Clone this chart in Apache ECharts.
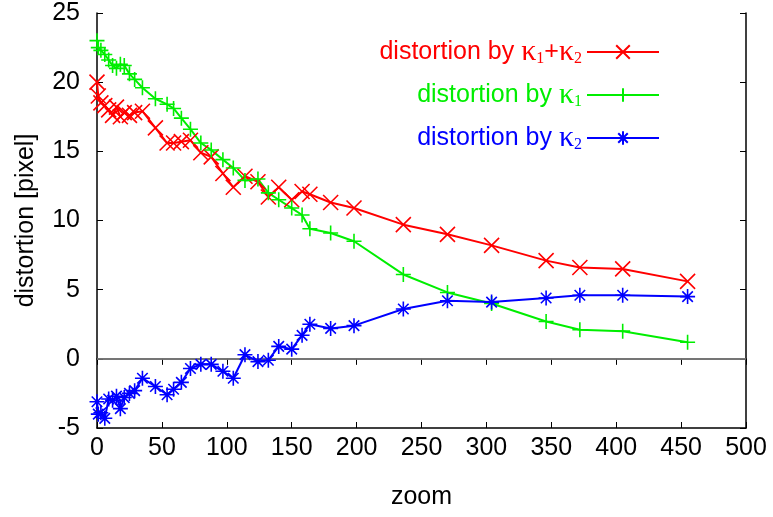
<!DOCTYPE html>
<html>
<head>
<meta charset="utf-8">
<script src="https://cdn.jsdelivr.net/npm/echarts@6/dist/echarts.min.js"></script>
<style>
  html, body { margin: 0; padding: 0; background: #fff; }
  #chart { width: 773px; height: 517px; }
</style>
</head>
<body>
<div id="chart"></div>
<script>
// zoom values shared by the three curves
const zoom = [0, 1, 3, 6, 9, 12, 15, 18, 21, 25, 29, 35, 45, 54, 59, 65, 72, 80, 88, 97,
    105, 114, 124, 132, 140, 150, 158, 164, 180, 198, 236, 270, 304, 346, 372, 405, 455];

// distortion by k1+k2
const distBoth = [20.0, 19.0, 18.5, 18.3, 18.0, 17.6, 18.2, 17.5, 17.8, 17.6, 17.8, 17.9, 16.7, 15.6, 15.6, 15.7, 15.8, 14.9, 14.6, 13.4,
    12.4, 13.2, 12.8, 11.7, 12.4, 11.5, 12.1, 11.9, 11.3, 10.9, 9.7, 9.0, 8.2, 7.1, 6.6, 6.5, 5.6];
// distortion by k1
const distK1 = [23.0, 22.5, 22.3, 22.0, 21.6, 21.2, 21.0, 21.3, 21.2, 20.6, 20.2, 19.6, 18.8, 18.4, 18.1, 17.4, 16.6, 15.6, 15.1, 14.4,
    13.8, 12.9, 13.0, 12.0, 11.5, 10.9, 10.4, 9.4, 9.1, 8.5, 6.1, 4.8, 4.0, 2.7, 2.1, 2.0, 1.2];
// distortion by k2
const distK2 = [-3.1, -4.0, -3.9, -4.3, -2.9, -3.0, -2.7, -3.6, -2.8, -2.5, -2.3, -1.4, -2.0, -2.6, -2.2, -1.7, -0.7, -0.4, -0.4, -0.9,
    -1.4, 0.3, -0.2, -0.1, 0.9, 0.7, 1.7, 2.5, 2.2, 2.4, 3.6, 4.2, 4.1, 4.4, 4.6, 4.6, 4.5];

const xTicks = [0, 50, 100, 150, 200, 250, 300, 350, 400, 450, 500];
const yTicks = [-5, 0, 5, 10, 15, 20, 25];

const FONT = '"Liberation Sans", Arial, sans-serif';
const SERIF = '"Liberation Serif", "DejaVu Serif", serif';
const FS = 25;

// 点的符号
const SYM_X = 'path://M0,0L10,10M10,0L0,10';
const SYM_PLUS = 'path://M5,0L5,10M0,5L10,5';
const SYM_STAR = 'path://M5,0L5,10M0,5L10,5M1.5,1.5L8.5,8.5M8.5,1.5L1.5,8.5';

function pairs(ys) {
    return zoom.map((z, i) => [z, ys[i]]);
}

function makeSeries(name, ys, color, symbol) {
    return {
        name: name,
        type: 'line',
        data: pairs(ys),
        symbol: symbol,
        symbolSize: 15,
        showAllSymbol: true,
        lineStyle: { color: color, width: 2 },
        itemStyle: { color: 'rgba(0,0,0,0)', borderColor: color, borderWidth: 1.6 },
        emphasis: { disabled: true },
        z: 3
    };
}

function legendRich(color) {
    return {
        t: { color: color, fontSize: FS, fontFamily: FONT },
        k: { color: color, fontSize: 30, fontFamily: SERIF },
        s: { color: color, fontSize: 16, fontFamily: SERIF, verticalAlign: 'bottom', padding: [14, 0, 0, 0] }
    };
}

const chart = echarts.init(document.getElementById('chart'));

const series = [
    makeSeries('both', distBoth, '#ff0000', SYM_X),
    makeSeries('k1', distK1, '#00ee00', SYM_PLUS),
    makeSeries('k2', distK2, '#0000ff', SYM_STAR)
];
// zero line
series[0].markLine = {
    silent: true,
    symbol: 'none',
    label: { show: false },
    lineStyle: { color: '#888', width: 1.5, type: 'solid' },
    data: [{ yAxis: 0 }],
    z: 1
};

const legendNames = {
    both: '{t|distortion by }{k|κ}{s|1}{t|+}{k|κ}{s|2}',
    k1: '{t|distortion by }{k|κ}{s|1}',
    k2: '{t|distortion by }{k|κ}{s|2}'
};

chart.setOption({
    animation: false,
    backgroundColor: '#fff',
    textStyle: { fontFamily: FONT },
    grid: { left: 97, right: 27, top: 13, bottom: 89 },
    legend: {
        orient: 'vertical',
        right: 108,
        top: 32,
        align: 'right',
        itemWidth: 72,
        itemHeight: 17,
        itemGap: 13,
        selectedMode: false,
        formatter: (name) => legendNames[name],
        data: [
            { name: 'both', textStyle: { rich: legendRich('#ff0000') } },
            { name: 'k1', textStyle: { rich: legendRich('#00ee00') } },
            { name: 'k2', textStyle: { rich: legendRich('#0000ff') } }
        ]
    },
    xAxis: [{
        type: 'value',
        min: xTicks[0],
        max: xTicks[xTicks.length - 1],
        interval: 50,
        name: 'zoom',
        nameLocation: 'middle',
        nameGap: 57,
        nameTextStyle: { fontSize: FS, color: '#000', fontFamily: FONT },
        axisLine: { onZero: false, lineStyle: { color: '#000', width: 1.5 } },
        axisTick: { inside: true, length: 6, lineStyle: { color: '#000' } },
        axisLabel: { fontSize: FS, color: '#000', margin: 8, fontFamily: FONT },
        splitLine: { show: false }
    }, {
        type: 'value',
        position: 'top',
        min: xTicks[0],
        max: xTicks[xTicks.length - 1],
        interval: 50,
        axisLine: { lineStyle: { color: '#000', width: 1.5 } },
        axisTick: { inside: true, length: 6, lineStyle: { color: '#000' } },
        axisLabel: { show: false },
        splitLine: { show: false }
    }],
    yAxis: [{
        type: 'value',
        min: yTicks[0],
        max: yTicks[yTicks.length - 1],
        interval: 5,
        name: 'distortion [pixel]',
        nameLocation: 'middle',
        nameGap: 58,
        nameTextStyle: { fontSize: FS, color: '#000', fontFamily: FONT },
        axisLine: { onZero: false, lineStyle: { color: '#000', width: 1.5 } },
        axisTick: { inside: true, length: 6, lineStyle: { color: '#000' } },
        axisLabel: { fontSize: FS, color: '#000', margin: 17, fontFamily: FONT },
        splitLine: { show: false }
    }, {
        type: 'value',
        position: 'right',
        min: yTicks[0],
        max: yTicks[yTicks.length - 1],
        interval: 5,
        axisLine: { show: true, onZero: false, lineStyle: { color: '#000', width: 1.5 } },
        axisTick: { show: true, inside: true, length: 6, lineStyle: { color: '#000' } },
        axisLabel: { show: false },
        splitLine: { show: false }
    }],
    series: series
});
</script>
</body>
</html>
